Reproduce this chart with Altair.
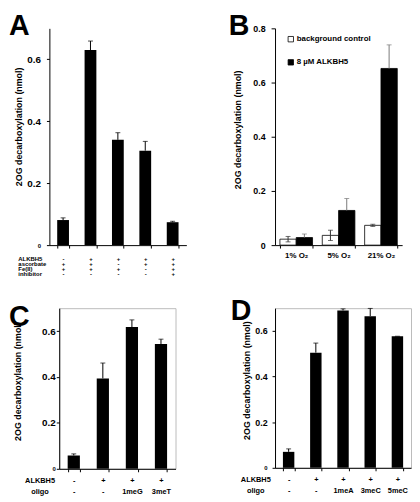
import altair as alt
import pandas as pd

FONT = "Arial"
YTITLE = "2OG decarboxylation (nmol)"

# ---------------- Panel A ----------------
a_keys = ["-|+|+|-", "+|+|+|-", "+|-|+|-", "+|+|-|-", "+|+|+|+"]
a_vals = [0.081, 0.630, 0.340, 0.305, 0.074]
a_errs = [0.007, 0.029, 0.023, 0.030, 0.003]
a_rows = ["ALKBH5", "ascorbate", "Fe(II)", "inhibitor"]

# ---------------- Panel B ----------------
b_groups = ["1% O₂", "5% O₂", "21% O₂"]
b_series = ["background control", "8 µM ALKBH5"]
b_ctrl = [0.022, 0.036, 0.073]
b_ctrl_err = [0.010, 0.019, 0.004]
b_alk = [0.028, 0.128, 0.652]
b_alk_err = [0.013, 0.044, 0.087]

# ---------------- Panel C ----------------
c_keys = ["-|-", "+|-", "+|1meG", "+|3meT"]
c_vals = [0.058, 0.394, 0.618, 0.544]
c_errs = [0.007, 0.067, 0.031, 0.021]
c_rows = ["ALKBH5", "oligo"]

# ---------------- Panel D ----------------
d_keys = ["-|-", "+|-", "+|1meA", "+|3meC", "+|5meC"]
d_vals = [0.070, 0.505, 0.690, 0.665, 0.577]
d_errs = [0.013, 0.042, 0.007, 0.034, 0.0]
d_rows = ["ALKBH5", "oligo"]

YLABEL = "datum.value === 0 ? '0' : format(datum.value, '.1f')"
XLABEL = "isString(datum.value) ? split(datum.value, '|') : ''"


def y_axis(values, title_x, title_y, label_size, zero_small, label_pad, tick=3, offset=0):
    if zero_small:
        lfs = {"condition": {"test": "datum.value === 0", "value": 6}, "value": label_size}
    else:
        lfs = label_size
    return alt.Axis(values=values, title=YTITLE, titleAngle=270, titleX=title_x, titleY=title_y,
                    titleAlign="center", titleBaseline="middle", titleFontSize=9,
                    titleFontWeight="bold", titleFont=FONT, labelFont=FONT, labelExpr=YLABEL,
                    labelFontSize=lfs, labelFontWeight="bold", labelPadding=label_pad,
                    tickSize=tick, grid=False, domainColor="black", tickColor="black",
                    labelColor="black", titleColor="black", offset=offset)


def x_axis(rows, title_x, title_align, label_pad, font_size, line_height):
    return alt.Axis(title=rows, titleX=title_x, titleY=3 + label_pad, titleAngle=0,
                    titleAlign=title_align, titleBaseline="top", titleFontSize=font_size,
                    titleFontWeight="bold", titleLineHeight=line_height, titleFont=FONT,
                    labelExpr=XLABEL, labelAngle=0, labelFontSize=font_size,
                    labelFontWeight="bold", labelLineHeight=line_height, labelPadding=label_pad,
                    labelBaseline="top", labelFont=FONT, tickSize=3, tickBand="extent",
                    domainColor="black", tickColor="black", labelColor="black", titleColor="black")


def letter(txt, dx, dy):
    return alt.TitleParams(txt, anchor="start", frame="group", orient="top", offset=0, dx=dx, dy=dy,
                           fontSize=29, fontWeight="bold", font=FONT, baseline="alphabetic",
                           align="left", color="black")


def simple_panel(keys, vals, errs, width, height, xscale, xax, yax, title, framed):
    df = pd.DataFrame({"cond": keys, "value": vals,
                       "hi": [round(v + e, 4) for v, e in zip(vals, errs)]})
    ys = alt.Scale(domain=[0, 0.7], nice=False)
    base = alt.Chart(df)
    bars = base.mark_bar(color="black").encode(
        x=alt.X("cond:N", sort=keys, scale=xscale, axis=xax),
        y=alt.Y("value:Q", scale=ys, axis=yax))
    err = base.mark_rule(color="black", strokeWidth=1).encode(
        x=alt.X("cond:N", sort=keys),
        y=alt.Y("value:Q"), y2="hi:Q")
    cap = base.mark_tick(color="black", thickness=1, size=5).encode(
        x=alt.X("cond:N", sort=keys),
        y=alt.Y("hi:Q"))
    ch = alt.layer(bars, err, cap).properties(width=width, height=height, title=title)
    if framed:
        ch = ch.properties(view=alt.ViewBackground(stroke="#bbbbbb", strokeWidth=1))
    return ch


# A: plot origin shared with C; its own axis sits 10 px further left
pa = simple_panel(
    a_keys, a_vals, a_errs, 129, 220,
    alt.Scale(domain=a_keys, paddingInner=0.57, paddingOuter=0.285, range=[-10, 129]),
    x_axis(a_rows, -42, "left", 8, 6, 5),
    y_axis([0, 0.2, 0.4, 0.6], -31.5, 99.5, 10, True, 6, 3, 10),
    letter("A", -51, 36), False)

pc = simple_panel(
    c_keys, c_vals, c_errs, 118, 163,
    alt.Scale(domain=c_keys, paddingInner=0.58, paddingOuter=0.29),
    x_axis(c_rows, -20, "center", 5, 7.5, 11),
    y_axis([0, 0.2, 0.4, 0.6], -42, 74, 10, True, 1),
    letter("C", -51, 47), True)

pd_ = simple_panel(
    d_keys, d_vals, d_errs, 138, 162,
    alt.Scale(domain=d_keys, paddingInner=0.58, paddingOuter=0.29),
    x_axis(d_rows, -20, "center", 5, 7.5, 11),
    y_axis([0, 0.2, 0.4, 0.6], -29, 73, 9, True, 5),
    letter("D", -45, 41), True)

# Panel B (grouped)
b_df = pd.DataFrame({"grp": b_groups * 2,
                     "series": [b_series[0]] * 3 + [b_series[1]] * 3,
                     "value": b_ctrl + b_alk})
b_ctrl_df = pd.DataFrame({"grp": b_groups, "series": [b_series[0]] * 3,
                          "lo": [round(v - e, 4) for v, e in zip(b_ctrl, b_ctrl_err)],
                          "hi": [round(v + e, 4) for v, e in zip(b_ctrl, b_ctrl_err)]})
b_alk_df = pd.DataFrame({"grp": b_groups, "series": [b_series[1]] * 3,
                         "lo": b_alk,
                         "hi": [round(v + e, 4) for v, e in zip(b_alk, b_alk_err)]})

bx_scale = alt.Scale(domain=b_groups, paddingInner=0.23, paddingOuter=0.115)
bo_scale = alt.Scale(domain=b_series, paddingInner=0, paddingOuter=0)
b_xaxis = alt.Axis(title=None, labelAngle=0, labelFontSize=8, labelFontWeight="bold", labelFont=FONT,
                   labelPadding=4, labelBaseline="top", tickSize=3, tickBand="extent",
                   domainColor="black", tickColor="black", labelColor="black")

b_bars = alt.Chart(b_df).mark_bar(stroke="black", strokeWidth=0.8).encode(
    x=alt.X("grp:N", sort=b_groups, scale=bx_scale, axis=b_xaxis),
    xOffset=alt.XOffset("series:N", sort=b_series, scale=bo_scale),
    y=alt.Y("value:Q", scale=alt.Scale(domain=[0, 0.8], nice=False),
            axis=y_axis([0, 0.2, 0.4, 0.6, 0.8], -38, 102.5, 9, False, 6, 4)),
    fill=alt.Fill("series:N", sort=b_series,
                  scale=alt.Scale(domain=b_series, range=["white", "black"]),
                  legend=alt.Legend(title=None, orient="none", legendX=12, legendY=7,
                                    direction="vertical", symbolType="square", symbolSize=30,
                                    symbolStrokeColor="black", symbolStrokeWidth=0.8,
                                    labelFontSize=8, labelFontWeight="bold", labelFont=FONT,
                                    labelColor="black", rowPadding=13.5, padding=0, labelOffset=2)))


def b_err(df, color, low_cap):
    enc_x = alt.X("grp:N", sort=b_groups)
    enc_o = alt.XOffset("series:N", sort=b_series)
    layers = [
        alt.Chart(df).mark_rule(color=color, strokeWidth=1).encode(
            x=enc_x, xOffset=enc_o, y=alt.Y("lo:Q"), y2="hi:Q"),
        alt.Chart(df).mark_tick(color=color, thickness=1, size=5).encode(
            x=enc_x, xOffset=enc_o, y=alt.Y("hi:Q")),
    ]
    if low_cap:
        layers.append(alt.Chart(df).mark_tick(color=color, thickness=1, size=5).encode(
            x=enc_x, xOffset=enc_o, y=alt.Y("lo:Q")))
    return layers


pb = alt.layer(b_bars, *b_err(b_ctrl_df, "#333333", True), *b_err(b_alk_df, "#7a7a7a", False)).properties(
    width=129, height=220, title=letter("B", -47, 40)).resolve_legend(fill="independent")

chart = alt.concat(pa, pb, pc, pd_, columns=2, spacing={"row": 64, "column": 90}, bounds="flush").resolve_scale(
    fill="independent").resolve_legend(fill="independent").properties(
    padding={"left": 0, "top": 0, "right": 0, "bottom": 0}).configure(font=FONT).configure_view(
    stroke="transparent")

chart.save("out.html", embed_options={"renderer": "svg", "actions": False})
